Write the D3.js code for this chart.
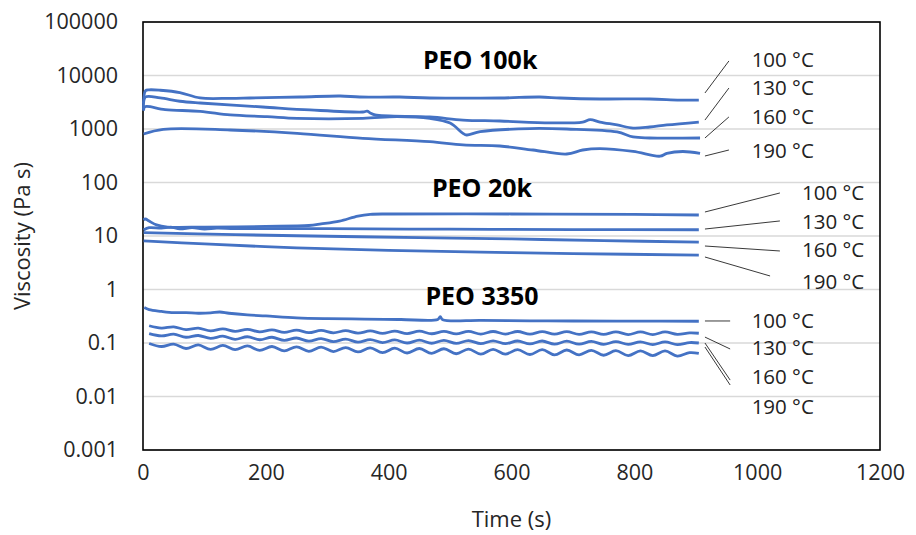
<!DOCTYPE html>
<html>
<head>
<meta charset="utf-8">
<script src="https://cdn.jsdelivr.net/npm/d3@7"></script>
<style>
  body { margin: 0; background: #fff; }
  text { font-family: "Open Sans", Lato, sans-serif; }
</style>
</head>
<body>
<div id="chart-area"></div>
<script>
// tick labels
var xTicks = [0, 200, 400, 600, 800, 1000, 1200];
var yTicks = [0.001, 0.01, 0.1, 1, 10, 100, 1000, 10000, 100000];

// PEO 100k  [time (s), viscosity (Pa s)]
var k100_100 = [[1,3000],[4,5200],[10,5400],[28,5300],[60,4800],[93,3800],[142,3750],[174,3800],[256,3960],[321,4140],[353,3960],[418,3960],[467,3800],[581,3800],[646,3960],[679,3800],[744,3640],[825,3640],[874,3480],[905,3480]];
var k100_130 = [[1,2300],[4,3960],[28,3800],[60,3300],[93,3060],[195,2580],[272,2270],[358,2080],[365,2150],[370,2000],[378,1830],[467,1680],[521,1470],[581,1410],[663,1300],[716,1350],[728,1500],[744,1350],[772,1190],[798,1040],[825,1090],[853,1190],[905,1350]];
var k100_160 = [[1,2200],[3,2600],[36,2300],[93,2140],[142,1830],[202,1700],[251,1580],[358,1580],[414,1700],[467,1580],[500,1290],[521,830],[527,773],[549,890],[630,1020],[690,1000],[772,880],[798,709],[825,679],[907,679]];
var k100_190 = [[1,807],[33,985],[142,958],[251,830],[358,670],[467,580],[521,503],[581,481],[635,405],[690,341],[716,405],[744,430],[798,380],[842,310],[853,350],[879,380],[907,350]];

// PEO 20k
var k20_100 = [[1,19.9],[4,20.8],[10,19.0],[22,16.1],[40,14.7],[100,14.7],[200,15.1],[270,15.7],[290,16.8],[320,19.0],[350,23.6],[370,25.4],[400,25.8],[600,25.8],[800,25.4],[905,24.7]];
var k20_130 = [[1,13.0],[10,14.3],[30,14.0],[45,14.6],[60,13.6],[80,14.3],[100,13.5],[120,14.0],[150,13.8],[300,13.7],[500,13.4],[700,13.2],[905,13.1]];
var k20_160 = [[1,11.6],[150,10.6],[300,9.9],[450,9.3],[600,8.8],[750,8.2],[905,7.7]];
var k20_190 = [[1,8.1],[100,7.1],[250,6.0],[400,5.4],[550,5.0],[700,4.7],[905,4.4]];

// PEO 3350
var k3350_100 = [[2,0.46],[10,0.42],[30,0.39],[50,0.37],[70,0.37],[90,0.36],[110,0.365],[125,0.38],[140,0.36],[170,0.335],[200,0.32],[250,0.295],[300,0.285],[360,0.28],[420,0.275],[480,0.275],[484,0.31],[488,0.272],[550,0.265],[630,0.26],[700,0.258],[800,0.257],[905,0.255]];
var k3350_130 = [[10,0.21],[30,0.19],[50,0.20],[70,0.178],[90,0.19],[110,0.168],[130,0.183],[150,0.165],[170,0.18],[190,0.162],[210,0.176],[230,0.158],[250,0.174],[270,0.156],[290,0.172],[310,0.155],[330,0.17],[350,0.153],[370,0.168],[390,0.151],[410,0.167],[430,0.15],[450,0.166],[470,0.149],[490,0.165],[510,0.148],[530,0.165],[550,0.147],[570,0.164],[590,0.147],[610,0.164],[630,0.146],[650,0.163],[670,0.146],[690,0.163],[710,0.145],[730,0.162],[750,0.145],[770,0.162],[790,0.144],[810,0.161],[830,0.144],[850,0.161],[870,0.145],[890,0.154],[905,0.152]];
var k3350_160 = [[10,0.150],[30,0.136],[50,0.146],[70,0.128],[90,0.138],[110,0.122],[130,0.134],[150,0.117],[170,0.131],[190,0.115],[210,0.128],[230,0.112],[250,0.124],[270,0.108],[290,0.121],[310,0.106],[330,0.118],[350,0.104],[370,0.116],[390,0.102],[410,0.114],[430,0.100],[450,0.113],[470,0.099],[490,0.112],[510,0.098],[530,0.111],[550,0.097],[570,0.110],[590,0.097],[610,0.109],[630,0.096],[650,0.109],[670,0.095],[690,0.108],[710,0.095],[730,0.107],[750,0.094],[770,0.106],[790,0.094],[810,0.105],[830,0.093],[850,0.105],[870,0.093],[890,0.102],[905,0.100]];
var k3350_190 = [[10,0.098],[30,0.086],[50,0.095],[70,0.079],[90,0.092],[110,0.076],[130,0.090],[150,0.075],[170,0.088],[190,0.073],[210,0.086],[230,0.071],[250,0.085],[270,0.070],[290,0.084],[310,0.069],[330,0.082],[350,0.068],[370,0.081],[390,0.066],[410,0.080],[430,0.065],[450,0.079],[470,0.064],[490,0.078],[510,0.063],[530,0.077],[550,0.062],[570,0.076],[590,0.062],[610,0.075],[630,0.061],[650,0.075],[670,0.060],[690,0.074],[710,0.060],[730,0.073],[750,0.059],[770,0.072],[790,0.058],[810,0.071],[830,0.058],[850,0.071],[870,0.057],[890,0.066],[905,0.064]];

var allSeries = [k100_100, k100_130, k100_160, k100_190, k20_100, k20_130, k20_160, k20_190, k3350_100, k3350_130, k3350_160, k3350_190];

// group titles [text, time, viscosity]
var groupTitles = [["PEO 100k", 549, 19500], ["PEO 20k", 552, 78], ["PEO 3350", 552, 0.75]];

// temperature labels [text, time, viscosity]
var tempLabels = [
    ["100 °C", 991, 19500], ["130 °C", 991, 5830], ["160 °C", 991, 1680], ["190 °C", 991, 388],
    ["100 °C", 1073, 63.7], ["130 °C", 1073, 18.3], ["160 °C", 1073, 5.47], ["190 °C", 1073, 1.38],
    ["100 °C", 991, 0.258], ["130 °C", 991, 0.0807], ["160 °C", 991, 0.0231], ["190 °C", 991, 0.00637]
];

// leader lines [t1, v1, t2, v2]
var leaders = [
    [915, 4710, 954, 18700], [915, 1470, 954, 5830], [915, 679, 954, 1680], [915, 313, 954, 405],
    [915, 28.1, 1037, 63.7], [915, 13.5, 1037, 19.1], [915, 6.5, 1037, 5.25], [915, 4.05, 1021, 1.79],
    [915, 0.258, 956, 0.258], [915, 0.129, 956, 0.0773], [915, 0.1, 956, 0.0203], [915, 0.0841, 956, 0.0164]
];

var margin = {top: 22, right: 36, bottom: 85, left: 143};
var width = 916 - margin.left - margin.right;
var height = 535 - margin.top - margin.bottom;

var svg = d3.select("#chart-area")
    .append("svg")
    .attr("width", 916)
    .attr("height", 535);

var g = svg.append("g")
    .attr("transform", "translate(" + margin.left + ", " + margin.top + ")");

var x = d3.scaleLinear().domain([0, 1200]).range([0, width]);
var y = d3.scaleLog().domain([0.001, 100000]).range([height, 0]);

// gridlines
g.selectAll(".grid").data(yTicks).enter().append("line")
    .attr("class", "grid")
    .attr("x1", 0).attr("x2", width)
    .attr("y1", (d) => y(d)).attr("y2", (d) => y(d))
    .attr("stroke", "#d9d9d9")
    .attr("stroke-width", 1.3);

// axes (labels only, no tick marks)
var xAxisCall = d3.axisBottom(x).tickValues(xTicks).tickSize(0).tickPadding(15).tickFormat(d3.format("d"));
var yAxisCall = d3.axisLeft(y).tickValues(yTicks).tickSize(0).tickPadding(25)
    .tickFormat((d) => d < 1 ? String(d) : d3.format("d")(d));

var xAxisGroup = g.append("g").attr("transform", "translate(0, " + height + ")").call(xAxisCall);
var yAxisGroup = g.append("g").call(yAxisCall);
[xAxisGroup, yAxisGroup].forEach((ax) => {
    ax.select(".domain").remove();
    ax.selectAll("text")
        .style("font-family", "'Open Sans', sans-serif")
        .style("font-size", "21.5px")
        .style("fill", "#262626");
});

// plot frame
g.append("rect")
    .attr("x", 0).attr("y", 0)
    .attr("width", width).attr("height", height)
    .attr("fill", "none")
    .attr("stroke", "#000")
    .attr("stroke-width", 1.6);

// series
var line = d3.line()
    .x((d) => x(d[0]))
    .y((d) => y(d[1]))
    .curve(d3.curveCatmullRom.alpha(0.5));

g.selectAll(".series").data(allSeries).enter().append("path")
    .attr("class", "series")
    .attr("d", line)
    .attr("fill", "none")
    .attr("stroke", "#4472C4")
    .attr("stroke-width", 2.8)
    .attr("stroke-linejoin", "round");

// leader lines
g.selectAll(".leader").data(leaders).enter().append("line")
    .attr("class", "leader")
    .attr("x1", (d) => x(d[0])).attr("y1", (d) => y(d[1]))
    .attr("x2", (d) => x(d[2])).attr("y2", (d) => y(d[3]))
    .attr("stroke", "#222")
    .attr("stroke-width", 0.9);

// temperature labels
g.selectAll(".temp").data(tempLabels).enter().append("text")
    .attr("class", "temp")
    .attr("x", (d) => x(d[1]))
    .attr("y", (d) => y(d[2]))
    .attr("dy", "0.35em")
    .attr("font-size", "20.5px")
    .style("fill", "#222")
    .text((d) => d[0]);

// group titles
g.selectAll(".gtitle").data(groupTitles).enter().append("text")
    .attr("class", "gtitle")
    .attr("x", (d) => x(d[1]))
    .attr("y", (d) => y(d[2]))
    .attr("dy", "0.35em")
    .attr("text-anchor", "middle")
    .attr("font-size", "25px")
    .attr("font-weight", "bold")
    .style("fill", "#000")
    .text((d) => d[0]);

// axis titles
g.append("text")
    .attr("x", width / 2)
    .attr("y", height + 77)
    .attr("text-anchor", "middle")
    .attr("font-size", "22px")
    .style("fill", "#262626")
    .text("Time (s)");

g.append("text")
    .attr("x", -(height / 2))
    .attr("y", -121)
    .attr("dy", "0.35em")
    .attr("text-anchor", "middle")
    .attr("transform", "rotate(-90)")
    .attr("font-size", "22px")
    .style("fill", "#262626")
    .text("Viscosity (Pa s)");
</script>
</body>
</html>
